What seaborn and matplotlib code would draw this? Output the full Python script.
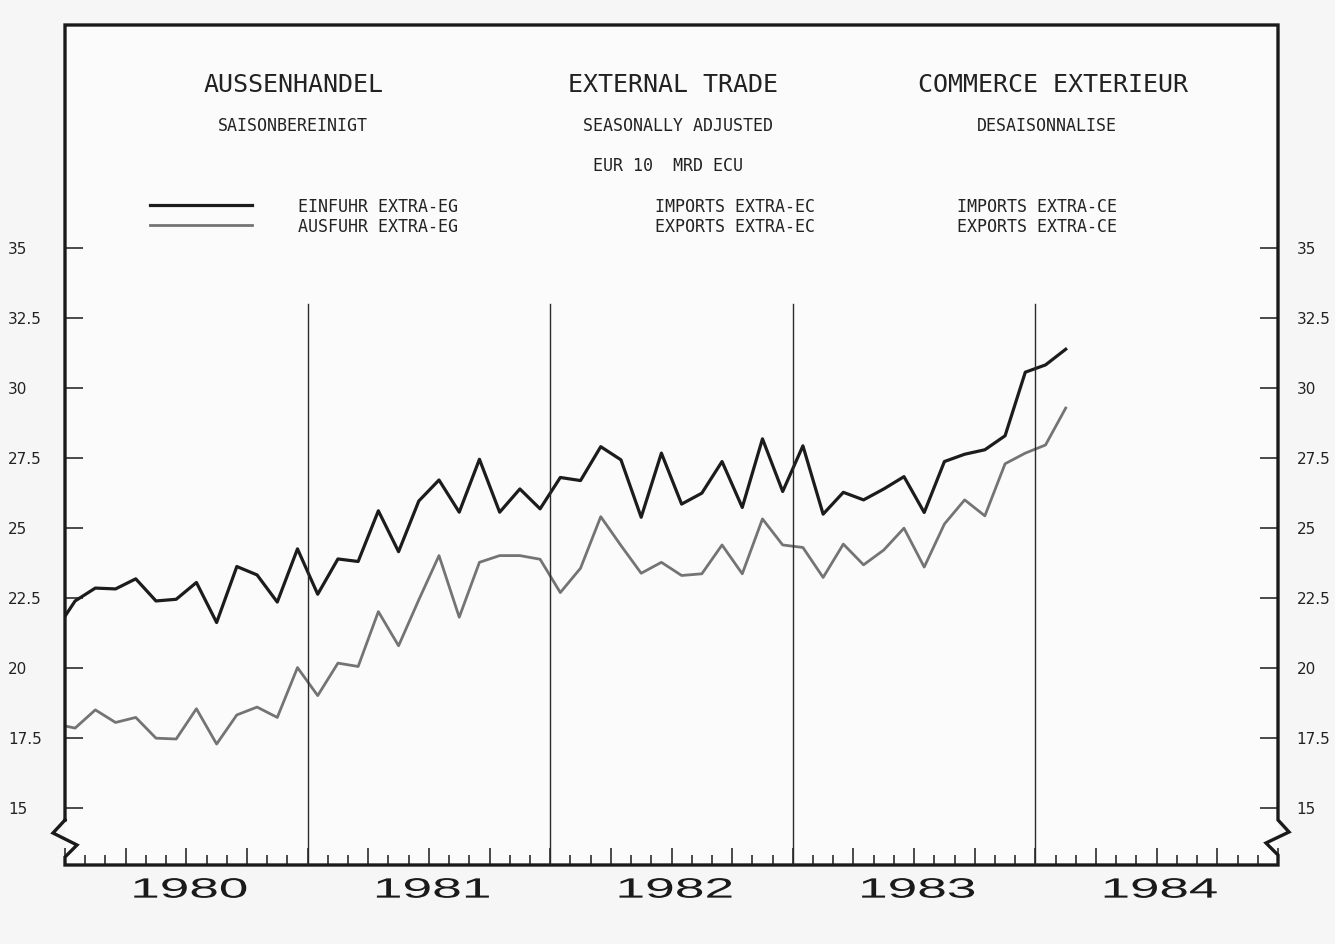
import numpy as np
import pandas as pd
import seaborn as sns
import matplotlib.pyplot as plt
from matplotlib.ticker import MultipleLocator
from matplotlib.textpath import TextPath
from matplotlib.patches import PathPatch
from matplotlib.font_manager import FontProperties
from matplotlib.transforms import Affine2D
from matplotlib.lines import Line2D

# monthly series, Dec 1979 .. Feb 1984 (Dec 1979 only feeds the clipped first segment)
months = pd.period_range("1979-12", "1984-02", freq="M")
imports = [21.3,
           22.39, 22.85, 22.82, 23.18, 22.39, 22.45, 23.05, 21.62, 23.62, 23.32, 22.35, 24.25,
           22.63, 23.89, 23.80, 25.61, 24.15, 25.96, 26.71, 25.56, 27.45, 25.56, 26.39, 25.68,
           26.80, 26.69, 27.90, 27.43, 25.38, 27.67, 25.85, 26.24, 27.37, 25.73, 28.18, 26.30,
           27.93, 25.49, 26.27, 26.00, 26.39, 26.83, 25.55, 27.37, 27.63, 27.79, 28.29, 30.56,
           30.82, 31.38]
exports = [18.0,
           17.85, 18.50, 18.05, 18.23, 17.49, 17.46, 18.54, 17.28, 18.32, 18.60, 18.23, 20.01,
           19.01, 20.17, 20.05, 22.01, 20.79, 22.43, 24.01, 21.81, 23.77, 24.01, 24.01, 23.88,
           22.69, 23.56, 25.40, 24.37, 23.38, 23.77, 23.30, 23.36, 24.39, 23.36, 25.32, 24.39,
           24.30, 23.23, 24.42, 23.68, 24.21, 24.99, 23.60, 25.14, 26.00, 25.43, 27.29, 27.67,
           27.96, 29.28]
years = [1980, 1981, 1982, 1983, 1984]
ytick_values = [15, 17.5, 20, 22.5, 25, 27.5, 30, 32.5, 35]
ytick_labels = ["15", "17.5", "20", "22.5", "25", "27.5", "30", "32.5", "35"]
year_line_top = 33.0

df = pd.DataFrame({
    "month": (months.year - 1980) * 12 + months.month - 0.5,
    "imports": imports,
    "exports": exports,
})

W, H = 1335, 944
fig = plt.figure(figsize=(W / 100, H / 100), dpi=100, facecolor="#f6f6f6")
ax = fig.add_axes([65 / W, 79 / H, 1213 / W, 840 / H])
ax.set_facecolor("#fbfbfb")

sns.lineplot(data=df, x="month", y="imports", color="#1c1c1c", lw=2.3, ax=ax, legend=False)
sns.lineplot(data=df, x="month", y="exports", color="#747474", lw=2.0, ax=ax, legend=False)

ylo, yhi = 12.96, 42.96
ax.set_xlim(0, 60)
ax.set_ylim(ylo, yhi)
ax.set_xlabel("")
ax.set_ylabel("")
for s in ax.spines.values():
    s.set_visible(False)

# frame with the little break zigzags at the bottom corners
fx = [0, 0, 1, 1, 1.0091, 0.9901, 1, 1, 0, 0, 0.0099, -0.0099, 0]
fy = [0.0536, 1, 1, 0.0536, 0.0393, 0.0262, 0.0119, 0, 0, 0.0095, 0.0238, 0.0381, 0.0536]
ax.plot(fx, fy, transform=ax.transAxes, clip_on=False, color="#1a1a1a", lw=2.4,
        solid_joinstyle="miter")

for yr in years[1:]:
    ax.axvline((yr - 1980) * 12, ymin=0, ymax=(year_line_top - ylo) / (yhi - ylo),
               color="#2a2a2a", lw=1.0)

# x ticks: months, taller every quarter
ax.xaxis.set_major_locator(MultipleLocator(3))
ax.xaxis.set_minor_locator(MultipleLocator(1))
ax.tick_params(axis="x", which="major", direction="in", length=12, width=1.1,
               color="#1a1a1a", bottom=True, top=False, labelbottom=False)
ax.tick_params(axis="x", which="minor", direction="in", length=7, width=1.1,
               color="#1a1a1a", bottom=True, top=False)

# y ticks both sides
ax.set_yticks(ytick_values)
ax.set_yticklabels(ytick_labels)
ax.tick_params(axis="y", direction="in", length=13, width=1.1, color="#1a1a1a",
               left=True, right=False, pad=41, labelsize=11, labelcolor="#222222")
for lab in ax.get_yticklabels():
    lab.set_ha("left")

ax2 = ax.twinx()
ax2.set_ylim(ylo, yhi)
ax2.set_yticks(ytick_values)
ax2.set_yticklabels(ytick_labels)
ax2.tick_params(axis="y", direction="in", length=13, width=1.1, color="#1a1a1a",
                right=True, left=False, pad=13.5, labelsize=11, labelcolor="#222222")
for s in ax2.spines.values():
    s.set_visible(False)

# header texts in a plotter-like mono font
mono = "DejaVu Sans Mono"
tc = "#222222"
def px(x, y):
    return x / W, 1 - y / H

for x, t in [(294, "AUSSENHANDEL"), (673, "EXTERNAL TRADE"), (1053, "COMMERCE EXTERIEUR")]:
    fig.text(*px(x, 85), t, family=mono, fontsize=18, ha="center", va="center", color=tc)
for x, t in [(293, "SAISONBEREINIGT"), (678, "SEASONALLY ADJUSTED"), (1047, "DESAISONNALISE")]:
    fig.text(*px(x, 126), t, family=mono, fontsize=12, ha="center", va="center", color=tc)
fig.text(*px(668, 166), "EUR 10  MRD ECU", family=mono, fontsize=12, ha="center", va="center", color=tc)

fig.text(*px(298, 207), "EINFUHR EXTRA-EG", family=mono, fontsize=12, ha="left", va="center", color=tc)
fig.text(*px(298, 227), "AUSFUHR EXTRA-EG", family=mono, fontsize=12, ha="left", va="center", color=tc)
fig.text(*px(815, 207), "IMPORTS EXTRA-EC", family=mono, fontsize=12, ha="right", va="center", color=tc)
fig.text(*px(815, 227), "EXPORTS EXTRA-EC", family=mono, fontsize=12, ha="right", va="center", color=tc)
fig.text(*px(1117, 207), "IMPORTS EXTRA-CE", family=mono, fontsize=12, ha="right", va="center", color=tc)
fig.text(*px(1117, 227), "EXPORTS EXTRA-CE", family=mono, fontsize=12, ha="right", va="center", color=tc)

fig.add_artist(Line2D([150 / W, 252 / W], [1 - 205 / H] * 2, color="#1c1c1c", lw=2.3))
fig.add_artist(Line2D([150 / W, 252 / W], [1 - 225 / H] * 2, color="#747474", lw=2.0))

# wide year labels: stretched text paths centred under each year
fp = FontProperties(family="Liberation Sans")
for yr in years:
    tp = TextPath((0, 0), str(yr), size=28, prop=fp)
    ext = tp.get_extents()
    cx, cy = (ext.x0 + ext.x1) / 2, (ext.y0 + ext.y1) / 2
    sx = 112 / ext.width
    X, Y = ax.transData.transform(((yr - 1980) * 12 + 6, ylo))
    tr = Affine2D().translate(-cx, -cy).scale(sx, 1.0).translate(X + 4, Y - 23)
    fig.add_artist(PathPatch(tp, transform=tr, facecolor="#1a1a1a", edgecolor="none"))

fig.savefig("out.png", dpi=100, facecolor=fig.get_facecolor())
